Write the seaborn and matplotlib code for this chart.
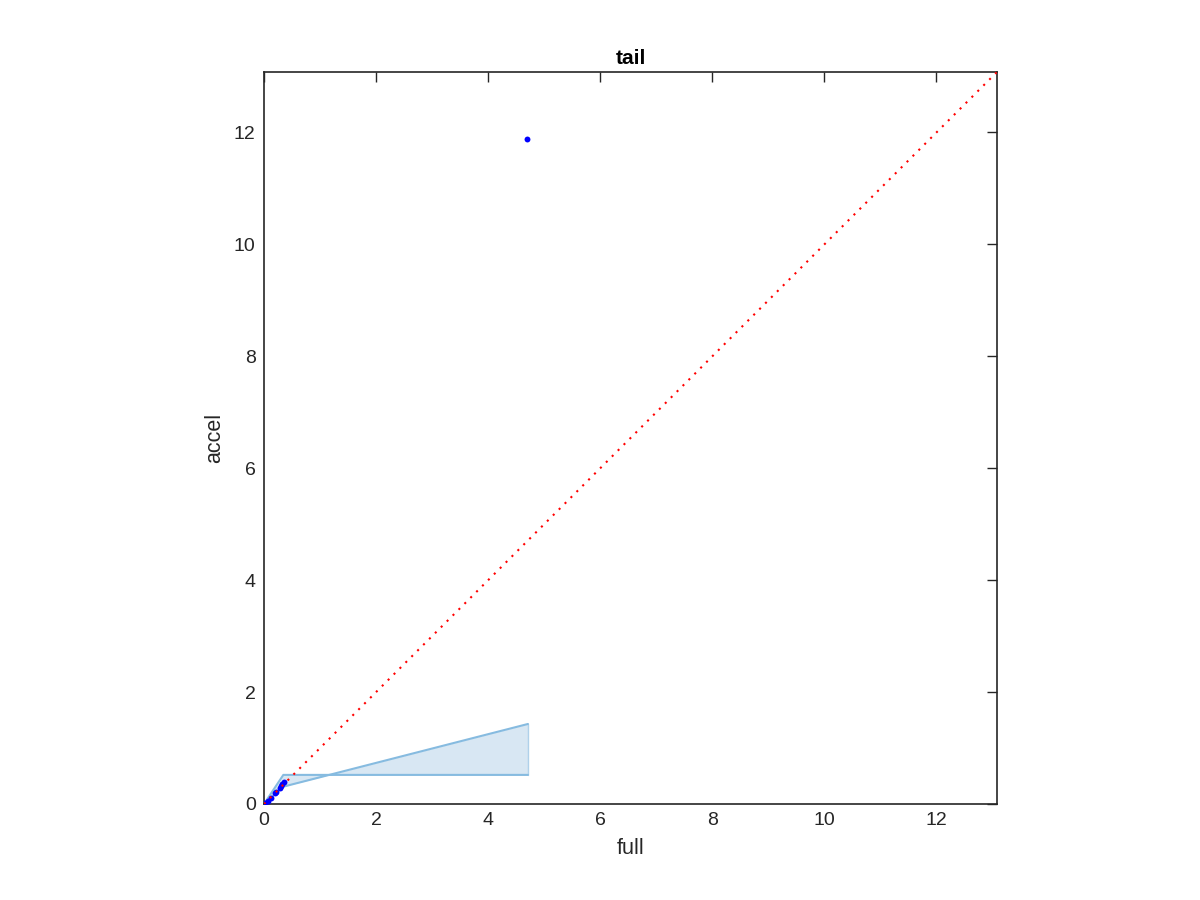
import numpy as np
import pandas as pd
import seaborn as sns
import matplotlib
matplotlib.use("Agg")
import matplotlib.pyplot as plt

# full vs accel timing points
full_vals = [0.0, 0.02, 0.08, 0.12, 0.20, 0.22, 0.28, 0.30, 0.33, 0.36, 4.70]
accel_vals = [0.0, 0.02, 0.06, 0.10, 0.19, 0.22, 0.29, 0.32, 0.36, 0.40, 11.89]

# shaded band (two bound curves)
band_x = [0.0, 0.345, 4.71]
band_upper = [0.0, 0.52, 0.52]
band_lower = [0.0, 0.31, 1.43]

lim = 13.08
ticks = [0, 2, 4, 6, 8, 10, 12]

sns.set_style("white")
plt.rcParams['font.family'] = ['Liberation Sans', 'DejaVu Sans']

fig = plt.figure(figsize=(12, 9), dpi=100)
ax = fig.add_axes([264 / 1200, 96 / 900, 733 / 1200, 732 / 900])

band_edge = "#86bbe0"
band_fill = "#d8e7f3"
ax.fill_between(band_x, band_lower, band_upper, color=band_fill, linewidth=0, zorder=1)
ax.plot(band_x, band_upper, color=band_edge, lw=1.5, zorder=2)
ax.plot(band_x, band_lower, color=band_edge, lw=1.5, zorder=2)
ax.plot([band_x[-1]] * 2, [band_lower[-1], band_upper[-1]], color=band_edge, lw=1, alpha=0.6, zorder=2)

df = pd.DataFrame({"full": full_vals, "accel": accel_vals})
sns.scatterplot(data=df, x="full", y="accel", color="blue", s=18, edgecolor="blue",
                linewidth=0, ax=ax, zorder=3)

ax.plot([0, lim], [0, lim], color="red", linestyle=(0, (1, 3)), lw=1.5, zorder=4)

ax.set_xlim(0, lim)
ax.set_ylim(0, lim)
ax.set_xticks(ticks)
ax.set_yticks(ticks)
ax.tick_params(direction="in", length=7, width=1, top=True, right=True,
               labelsize=14, colors="#262626", pad=6)
for sp in ax.spines.values():
    sp.set_visible(True)
    sp.set_color("#262626")
    sp.set_linewidth(1.2)

ax.set_xlabel("full", fontsize=15.5, color="#262626", labelpad=6)
ax.set_ylabel("accel", fontsize=15.5, color="#262626", labelpad=6)
ax.set_title("tail", fontsize=15, fontweight="bold", color="black", pad=6)

fig.savefig("out.png", dpi=100, facecolor="white")
